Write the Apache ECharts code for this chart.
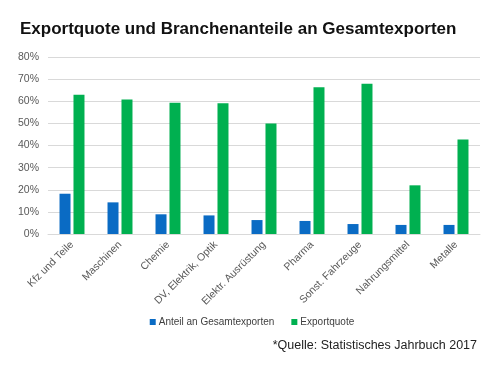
<!DOCTYPE html>
<html><head><meta charset="utf-8">
<script src="https://cdn.jsdelivr.net/npm/echarts@6/dist/echarts.min.js"></script>
<style>html,body{margin:0;padding:0;background:#fff}#c{width:504px;height:373px}</style>
</head><body><div id="c"></div>
<script>
var categories = ["Kfz und Teile","Maschinen","Chemie","DV, Elektrik, Optik","Elektr. Ausrüstung","Pharma","Sonst. Fahrzeuge","Nahrungsmittel","Metalle"];
var anteil = [18.2,14.3,8.9,8.4,6.3,5.9,4.5,4.1,4.1];
var exportquote = [62.9,60.8,59.3,59.1,49.9,66.3,67.9,22.0,42.7];
var chart = echarts.init(document.getElementById('c'));
chart.setOption({
  animation:false,
  textStyle:{fontFamily:'Liberation Sans, Arial, sans-serif'},
  title:[{text:'Exportquote und Branchenanteile an Gesamtexporten',left:20,top:21,padding:0,
    textStyle:{fontSize:17,fontWeight:'bold',color:'#111',fontFamily:'Liberation Sans, Arial, sans-serif'}},
    {text:'*Quelle: Statistisches Jahrbuch 2017',right:27,top:339,padding:0,
    textStyle:{fontSize:12.5,fontWeight:'normal',color:'#222',fontFamily:'Liberation Sans, Arial, sans-serif'}}],
  legend:{top:312,left:'center',itemWidth:6,itemHeight:6,itemGap:17,icon:'rect',
    textStyle:{fontSize:10,color:'#404040',padding:[0,0,0,-2]},
    data:['Anteil an Gesamtexporten','Exportquote']},
  grid:{left:48,right:24,top:57,bottom:139},
  xAxis:{type:'category',data:categories,
    axisLine:{lineStyle:{color:'#d9d9d9'}},axisTick:{show:false},
    axisLabel:{rotate:45,fontSize:10.5,color:'#595959',interval:0,margin:9}},
  yAxis:{type:'value',min:0,max:80,interval:10,
    axisLabel:{formatter:'{value}%',fontSize:10.5,color:'#595959',margin:9},
    splitLine:{lineStyle:{color:'#d9d9d9'}},axisLine:{show:false},axisTick:{show:false}},
  series:[
    {name:'Anteil an Gesamtexporten',type:'bar',data:anteil,barWidth:11,barGap:'27%',itemStyle:{color:'#0a6bc4'}},
    {name:'Exportquote',type:'bar',data:exportquote,barWidth:11,itemStyle:{color:'#00b050'}}
  ]
});
</script></body></html>
